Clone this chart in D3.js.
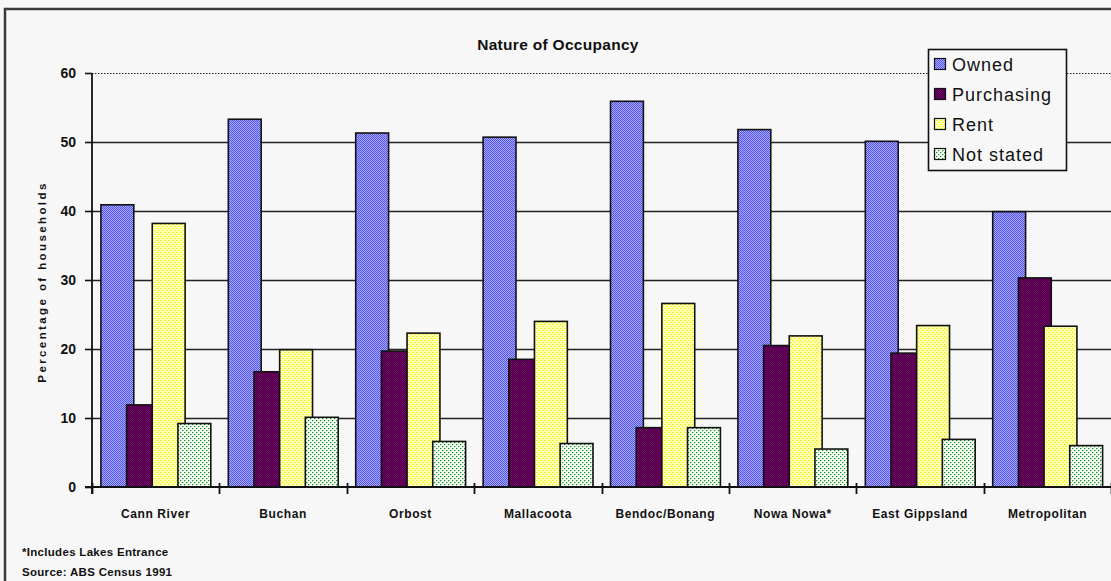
<!DOCTYPE html>
<html>
<head>
<meta charset="utf-8">
<script src="https://cdn.jsdelivr.net/npm/d3@7"></script>
<style>
  html, body { margin: 0; padding: 0; background: #f7f7f7; }
  svg { display: block; }
  text { font-family: "Liberation Sans", Arial, sans-serif; fill: #111; }
</style>
</head>
<body>
<svg id="chart" width="1111" height="581"></svg>
<script>
// Nature of occupancy, percentage of households by locality (ABS Census 1991)
const categories = ["Cann River", "Buchan", "Orbost", "Mallacoota", "Bendoc/Bonang", "Nowa Nowa*", "East Gippsland", "Metropolitan"];
const owned      = [40.9, 53.3, 51.3, 50.7, 55.9, 51.8, 50.1, 39.9];
const purchasing = [11.9, 16.7, 19.7, 18.5, 8.6, 20.5, 19.4, 30.3];
const rent       = [38.2, 19.9, 22.3, 24.0, 26.6, 21.9, 23.4, 23.3];
const notStated  = [9.2, 10.1, 6.6, 6.3, 8.6, 5.5, 6.9, 6.0];
const seriesNames = ["Owned", "Purchasing", "Rent", "Not stated"];
const yTicks = [0, 10, 20, 30, 40, 50, 60];
const footnotes = ["*Includes Lakes Entrance", "Source: ABS Census 1991"];

const seriesValues = [owned, purchasing, rent, notStated];
const patternIds = ["pOwned", "pPurchasing", "pRent", "pNotStated"];

const svg = d3.select("#chart");
const W = 1111, H = 581;

// ---- fill patterns (pixel textures) ----
const defs = svg.append("defs");
function pixelPattern(id, size, base, dots) {
  const p = defs.append("pattern").attr("id", id)
    .attr("patternUnits", "userSpaceOnUse")
    .attr("width", size).attr("height", size);
  p.append("rect").attr("width", size).attr("height", size).attr("fill", base);
  dots.forEach(([x, y, c]) => p.append("rect").attr("x", x).attr("y", y)
    .attr("width", 1).attr("height", 1).attr("fill", c));
}
pixelPattern("pOwned", 2, "#5252ee", [[1, 0, "#aaaaff"], [0, 1, "#aaaaff"]]);
pixelPattern("pPurchasing", 2, "#7e0048", [[1, 0, "#3e0062"], [0, 1, "#3e0062"]]);
pixelPattern("pRent", 4, "#ffffb4", [[0, 0, "#eeee00"], [2, 2, "#eeee00"], [1, 0, "#fafa60"], [3, 2, "#fafa60"]]);
pixelPattern("pNotStated", 4, "#f6fff4", [[0, 0, "#1d8a2c"], [2, 2, "#1d8a2c"], [1, 0, "#a6dca8"], [3, 2, "#a6dca8"], [0, 1, "#cdeccd"], [2, 3, "#cdeccd"]]);

// ---- frame ----
svg.append("path")
  .attr("d", `M5,${H + 5} L5,9 L${W + 5},9`)
  .attr("fill", "none").attr("stroke", "#3a3a3a").attr("stroke-width", 2.5);

// ---- scales ----
const x = d3.scaleBand().domain(categories).range([92, 1111.2]).padding(0);
const y = d3.scaleLinear().domain([0, 60]).range([487, 73]);
const bw = x.bandwidth();
const barW = bw * 0.258;
const barStep = bw * 0.2015;
const barOffset = bw * 0.07;

// ---- gridlines ----
const grid = svg.append("g");
grid.selectAll("line.grid")
  .data(yTicks.filter(t => t > 0))
  .join("line")
  .attr("x1", 92).attr("x2", W)
  .attr("y1", d => Math.round(y(d)) + 0.5).attr("y2", d => Math.round(y(d)) + 0.5)
  .attr("stroke", "#222")
  .attr("stroke-width", d => d === 60 ? 1.2 : 1.6)
  .attr("stroke-dasharray", d => d === 60 ? "1.5,1.5" : null);

// ---- bars ----
const barsG = svg.append("g");
seriesValues.forEach((vals, si) => {
  barsG.append("g")
    .selectAll("rect")
    .data(vals.map((v, i) => ({ cat: categories[i], v })))
    .join("rect")
    .attr("x", d => x(d.cat) + barOffset + si * barStep)
    .attr("y", d => y(d.v))
    .attr("width", barW)
    .attr("height", d => y(0) - y(d.v))
    .attr("fill", `url(#${patternIds[si]})`)
    .attr("stroke", "#111")
    .attr("stroke-width", 1.6);
});

// ---- y axis ----
const yAxis = d3.axisLeft(y).tickValues(yTicks).tickSize(7).tickPadding(9);
const yG = svg.append("g").attr("transform", "translate(92,0)").call(yAxis);
yG.select(".domain").attr("stroke", "#111").attr("stroke-width", 1.8)
  .attr("d", `M0,${y(60)}V${y(0) + 7}`);
yG.selectAll(".tick line").attr("stroke", "#111").attr("stroke-width", 1.6);
yG.selectAll(".tick text")
  .style("font-family", "'Liberation Sans', Arial, sans-serif")
  .style("font-size", "14px").style("font-weight", "bold")
  .attr("fill", "#111");

// ---- x axis ----
const boundaries = categories.map(c => x(c)).concat([x.range()[1]]);
const xG = svg.append("g");
xG.append("line")
  .attr("x1", 85).attr("x2", W)
  .attr("y1", y(0)).attr("y2", y(0))
  .attr("stroke", "#111").attr("stroke-width", 1.8);
xG.selectAll("line.xtick")
  .data(boundaries)
  .join("line")
  .attr("x1", d => Math.round(d) + 0.5).attr("x2", d => Math.round(d) + 0.5)
  .attr("y1", y(0) - 4).attr("y2", y(0) + 7)
  .attr("stroke", "#111").attr("stroke-width", 1.8);
xG.selectAll("text.xlabel")
  .data(categories)
  .join("text")
  .attr("x", d => x(d) + bw / 2)
  .attr("y", 518)
  .attr("text-anchor", "middle")
  .style("font-size", "12px").style("font-weight", "bold")
  .style("letter-spacing", "0.6px")
  .text(d => d);

// ---- y axis title ----
svg.append("text")
  .attr("transform", "translate(46,282) rotate(-90)")
  .attr("text-anchor", "middle")
  .style("font-size", "11.5px").style("font-weight", "bold")
  .style("letter-spacing", "2.4px")
  .text("Percentage of households");

// ---- title ----
svg.append("text")
  .attr("x", 558).attr("y", 50)
  .attr("text-anchor", "middle")
  .style("font-size", "15.5px").style("font-weight", "bold")
  .style("letter-spacing", "0.3px")
  .text("Nature of Occupancy");

// ---- legend ----
const leg = svg.append("g");
leg.append("rect")
  .attr("x", 928.5).attr("y", 49.5).attr("width", 138).attr("height", 121)
  .attr("fill", "#f7f7f7").attr("stroke", "#111").attr("stroke-width", 1.6);
const rowY = i => 64 + i * 30;
leg.selectAll("rect.sw")
  .data(seriesNames)
  .join("rect")
  .attr("x", 934.5).attr("y", (d, i) => rowY(i) - 5.5)
  .attr("width", 11).attr("height", 11)
  .attr("fill", (d, i) => `url(#${patternIds[i]})`)
  .attr("stroke", "#111").attr("stroke-width", 1.2);
leg.selectAll("text.lt")
  .data(seriesNames)
  .join("text")
  .attr("x", 952).attr("y", (d, i) => rowY(i) + 6.5)
  .style("font-size", "18px")
  .style("letter-spacing", "1px")
  .text(d => d);

// ---- footnotes ----
svg.selectAll("text.fn")
  .data(footnotes)
  .join("text")
  .attr("x", 22).attr("y", (d, i) => 556 + i * 20)
  .style("font-size", "11.5px").style("font-weight", "bold")
  .style("letter-spacing", "0.3px")
  .text(d => d);
</script>
</body>
</html>
